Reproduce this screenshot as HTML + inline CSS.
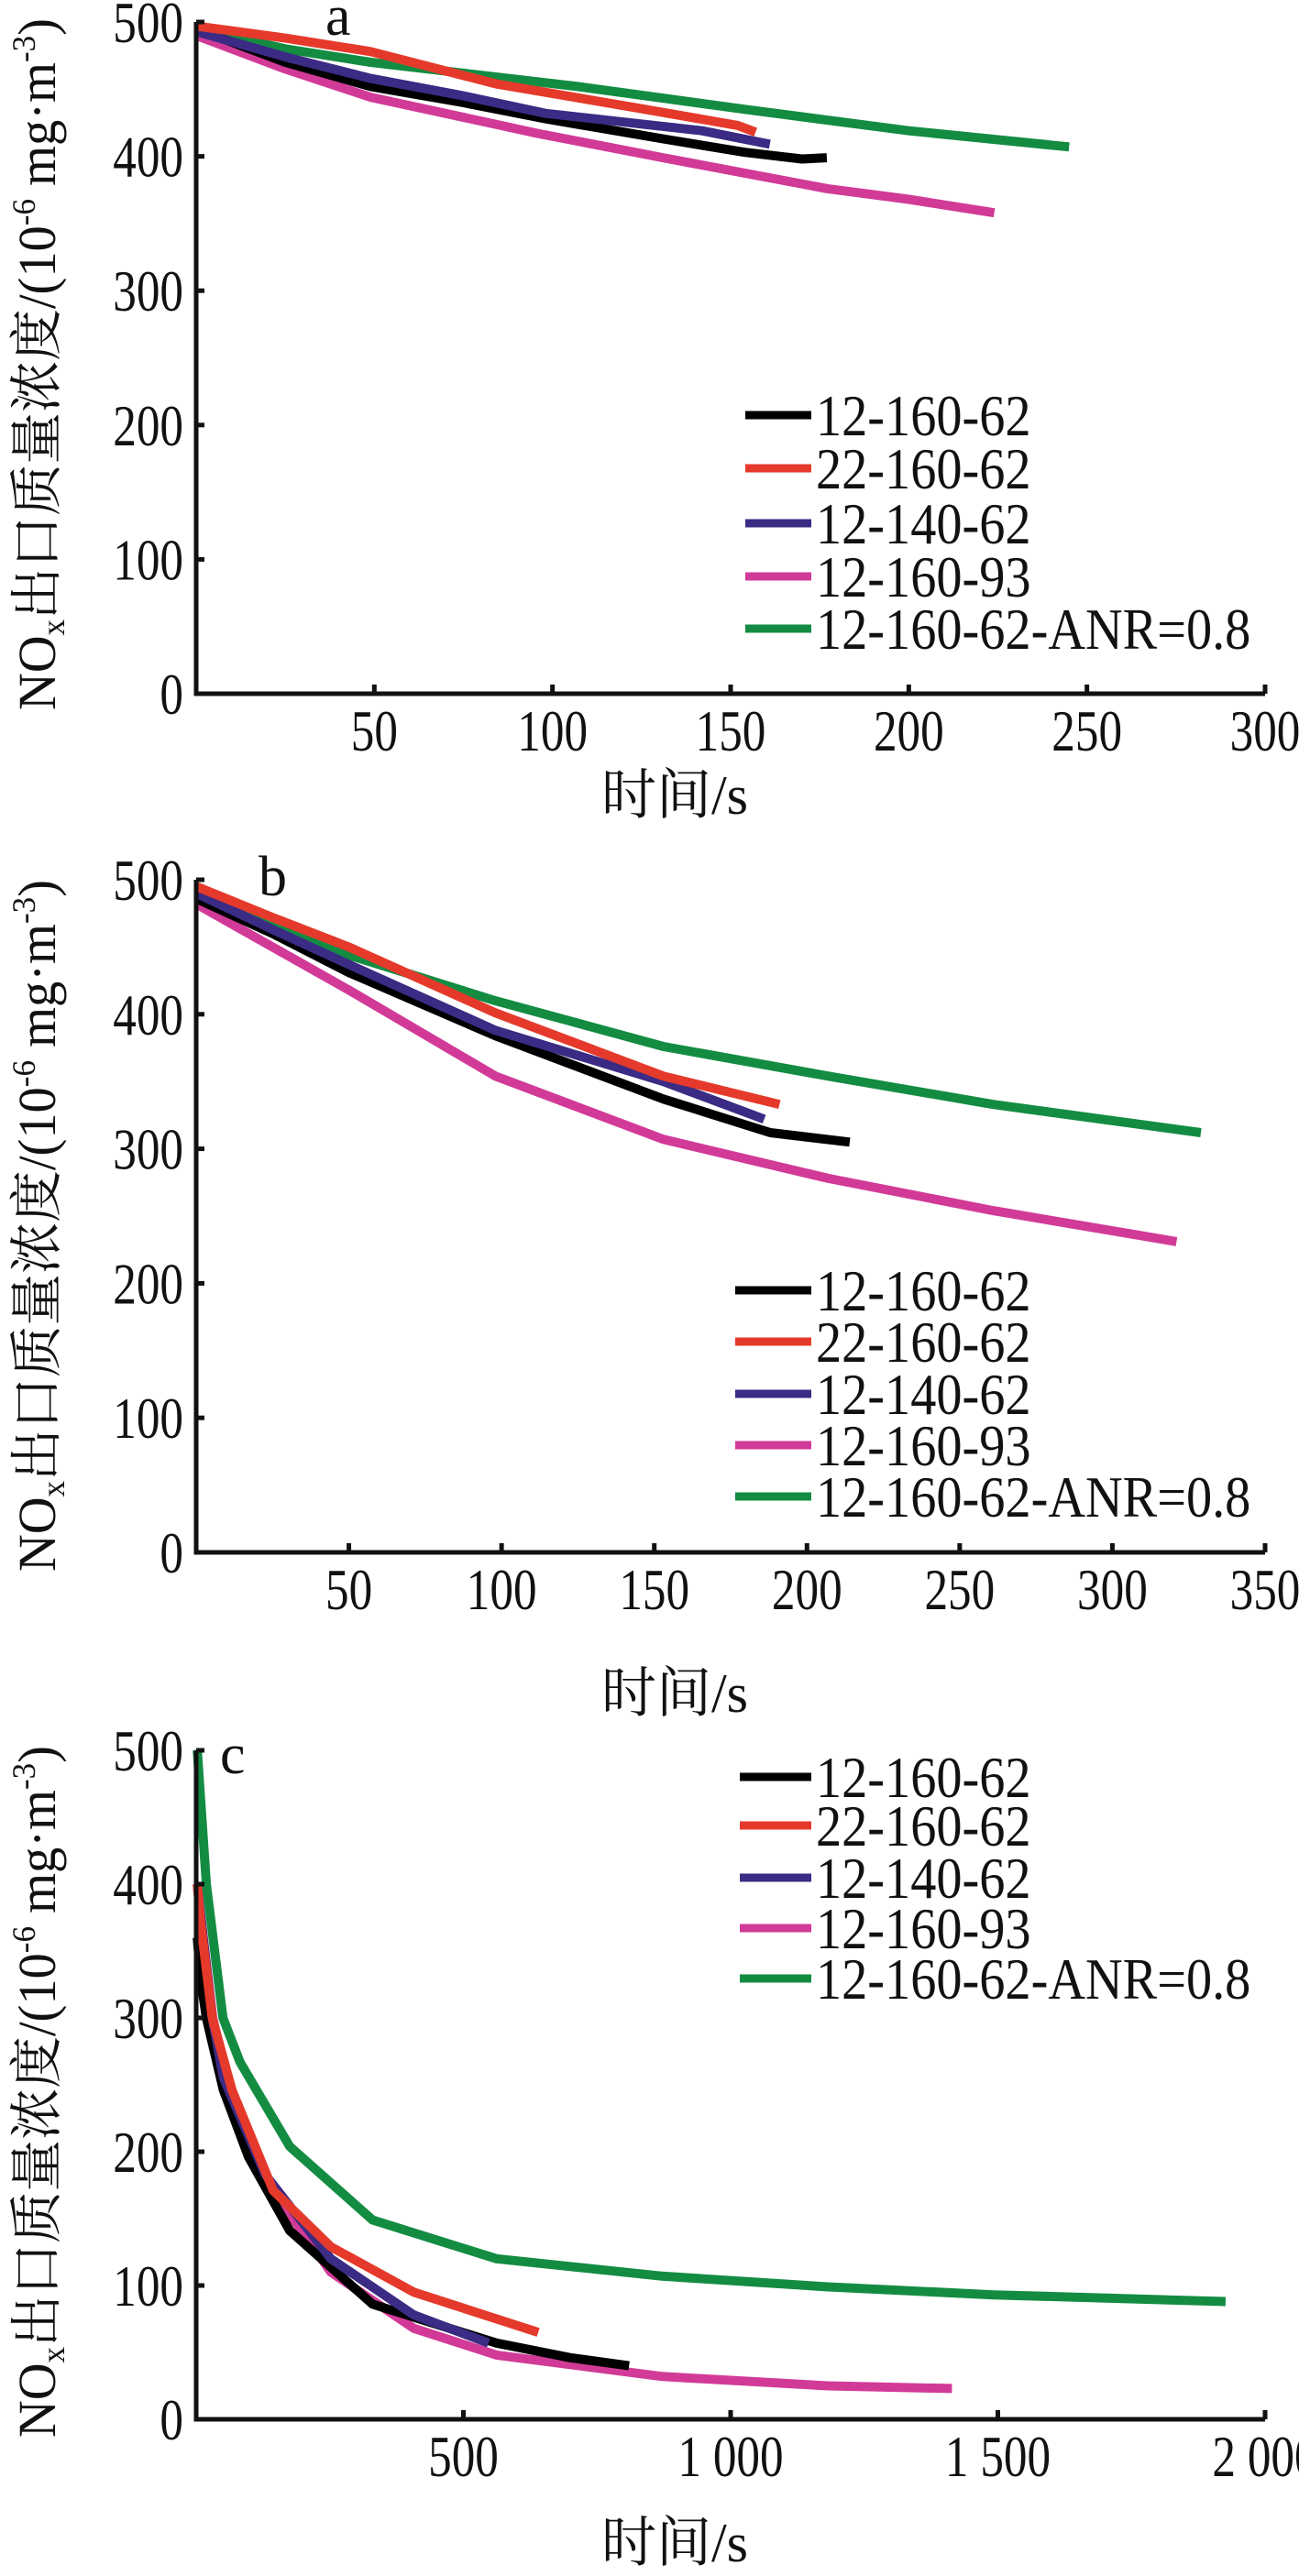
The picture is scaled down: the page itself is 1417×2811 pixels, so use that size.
<!DOCTYPE html>
<html><head><meta charset="utf-8">
<style>
html,body{margin:0;padding:0;background:#fff;}
svg{display:block;}
text{font-family:"Liberation Serif","Noto Serif CJK SC",serif;fill:#111;}
</style></head>
<body>
<svg id="fig" xmlns="http://www.w3.org/2000/svg" width="1417" height="2811" viewBox="0 0 1417 2811"></svg>
<script>
// ---------- Data ----------
const seriesNames = ["12-160-62","22-160-62","12-140-62","12-160-93","12-160-62-ANR=0.8"];
const seriesColors = ["#000000","#e53a2b","#3b2b84","#d23a98","#138c42"];
const yTicks = [0,100,200,300,400,500];
const xTicksA = [50,100,150,200,250,300];
const xTicksB = [50,100,150,200,250,300,350];
const xTicksC = [500,1000,1500,2000];
const xTickLabelsC = ["500","1 000","1 500","2 000"];

// panel a: [time, value]
const aBlack  = [[0,495],[25,470],[49,452],[75,440],[98,428],[131,413],[154,403],[170,398],[177,399]];
const aRed    = [[0,497],[25,488],[49,478],[84,454],[126,435],[152,423],[157,418]];
const aPurple = [[0,493],[25,474],[49,458],[75,445],[98,432],[142,419],[161,409]];
const aMagenta= [[0,490],[25,465],[49,444],[96,417],[131,399],[177,376],[200,368],[224,358]];
const aGreen  = [[0,495],[25,480],[49,470],[107,452],[154,435],[200,419],[245,407]];
// panel b
const bBlack  = [[0,486],[25,460],[50,431],[98,384],[153,337],[188,312],[214,305]];
const bRed    = [[0,495],[25,472],[50,450],[98,401],[153,354],[191,333]];
const bPurple = [[0,490],[25,463],[50,437],[98,388],[153,350],[186,322]];
const bMagenta= [[0,482],[25,450],[50,418],[98,354],[153,307],[207,278],[261,254],[321,231]];
const bGreen  = [[0,495],[25,470],[50,444],[98,410],[153,376],[207,354],[261,333],[329,312]];
// panel c
const cBlack  = [[2,360],[8,330],[19,300],[51,246],[98,196],[175,141],[330,86],[562,57],[700,46],[810,40]];
const cRed    = [[2,400],[8,372],[30,300],[67,246],[144,171],[252,129],[407,95],[640,65]];
const cPurple = [[2,400],[6,385],[30,300],[51,255],[129,183],[252,120],[407,78],[547,57]];
const cMagenta= [[2,400],[6,385],[31,300],[67,238],[144,171],[252,110],[407,68],[562,48],[872,32],[1182,25],[1414,23]];
const cGreen  = [[2,500],[19,400],[50,300],[82,267],[175,204],[330,149],[562,120],[872,107],[1182,99],[1492,93],[1926,88]];

const svg = document.getElementById('fig');
const NS = "http://www.w3.org/2000/svg";
function mk(tag, attrs, parent){
  const e = document.createElementNS(NS, tag);
  for (const k in attrs) e.setAttribute(k, attrs[k]);
  (parent||svg).appendChild(e);
  return e;
}

function panel(cfg){
  const g = mk('g', {});
  
  
  const X = v => cfg.x0 + (v / cfg.xmax) * (cfg.x1 - cfg.x0);
  const Y = v => cfg.y0 - (v / 500) * (cfg.y0 - cfg.y500);

  const order = [4,3,0,2,1];
  order.forEach(i => {
    const d = cfg.series[i];
    const pts = d.map(p => X(p[0]).toFixed(1) + ',' + Y(p[1]).toFixed(1)).join(' ');
    const pl = mk('polyline', {points: pts, fill: 'none', stroke: seriesColors[i], 'stroke-width': 10, 'stroke-linejoin': 'round'}, g);
    
    
  });

  const ax = mk('path', {d: `M${cfg.x0},${Y(500)} V${cfg.y0} H${cfg.x1}`, fill: 'none', stroke: '#111', 'stroke-width': 5}, g);
  
  

  yTicks.forEach(v => {
    const y = Y(v);
    if (v > 0) {
      const t = mk('line', {x1: cfg.x0, x2: cfg.x0 + 9, y1: y, y2: y, stroke: '#111', 'stroke-width': 5}, g);
      
      
    }
    const lb = mk('text', {transform: `translate(${cfg.x0 - 14},${y + 22}) scale(0.8,1)`, 'font-size': 64, 'text-anchor': 'end'}, g);
    lb.textContent = String(v);
    
    
  });

  cfg.xticks.forEach((v, k) => {
    const x = X(v);
    const t = mk('line', {x1: x, x2: x, y1: cfg.y0, y2: cfg.y0 - 10, stroke: '#111', 'stroke-width': 5}, g);
    
    
    const lb = mk('text', {transform: `translate(${x},${cfg.y0 + 62}) scale(0.8,1)`, 'font-size': 64, 'text-anchor': 'middle'}, g);
    lb.textContent = cfg.xlabels ? cfg.xlabels[k] : String(v);
    
    
  });

  const xt = mk('text', {x: 736, y: cfg.xtitleY, 'font-size': 60, 'text-anchor': 'middle'}, g);
  xt.textContent = '时间/s';
  
  

  const yt = mk('text', {transform: `translate(60,${cfg.ytitleBottom}) rotate(-90)`, 'font-size': 58, textLength: 755, lengthAdjust: 'spacingAndGlyphs'}, g);
  yt.innerHTML = 'NO<tspan font-size="36" dy="10">x</tspan><tspan dy="-10">出口质量浓度/(10</tspan><tspan font-size="36" dy="-22">-6</tspan><tspan dy="22"> mg·m</tspan><tspan font-size="36" dy="-22">-3</tspan><tspan dy="22">)</tspan>';
  
  

  const pl = mk('text', {x: cfg.labX, y: cfg.labY, 'font-size': 62}, g);
  pl.textContent = cfg.id;
  
  

  cfg.legY.forEach((ly, i) => {
    const lg = mk('g', {}, g);
    
    
    mk('line', {x1: cfg.legX, x2: 885, y1: ly, y2: ly, stroke: seriesColors[i], 'stroke-width': 9}, lg);
    const tx = mk('text', {transform: `translate(890,${ly + 22}) scale(0.88,1)`, 'font-size': 64}, lg);
    tx.textContent = seriesNames[i];
  });
}

panel({id:'a', x0:214, x1:1380, xmax:300, y0:757, y500:24,
  series:[aBlack,aRed,aPurple,aMagenta,aGreen], xticks:xTicksA,
  xtitleY:888, ytitleBottom:775, labX:355, labY:38, legX:813,
  legY:[453,511,571,629,686]});
panel({id:'b', x0:214, x1:1380, xmax:350, y0:1694, y500:960,
  series:[bBlack,bRed,bPurple,bMagenta,bGreen], xticks:xTicksB,
  xtitleY:1868, ytitleBottom:1715, labX:282, labY:977, legX:802,
  legY:[1408,1464,1521,1577,1633]});
panel({id:'c', x0:214, x1:1380, xmax:2000, y0:2640, y500:1910,
  series:[cBlack,cRed,cPurple,cMagenta,cGreen], xticks:xTicksC, xlabels:xTickLabelsC,
  xtitleY:2795, ytitleBottom:2660, labX:240, labY:1935, legX:807,
  legY:[1939,1992,2049,2104,2159]});
</script>
</body></html>
